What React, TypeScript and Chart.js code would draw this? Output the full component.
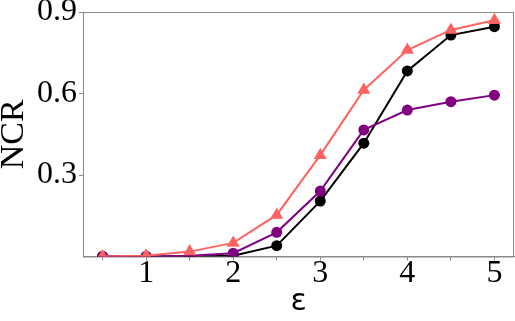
import React, { useEffect, useRef } from "react";
import { Chart, registerables } from "chart.js";

Chart.register(...registerables);

const epsValues = [0.5, 1, 1.5, 2, 2.5, 3, 3.5, 4, 4.5, 5];
const redSeries = [0, 0.003, 0.018, 0.05, 0.153, 0.373, 0.613, 0.76, 0.834, 0.87];
const purpleSeries = [0, 0, 0.003, 0.012, 0.089, 0.241, 0.466, 0.539, 0.57, 0.594];
const blackSeries = [0, 0, 0, 0.003, 0.04, 0.204, 0.417, 0.683, 0.815, 0.846];
const xTickValues = [0.5, 1, 1.5, 2, 2.5, 3, 3.5, 4, 4.5, 5];
const yTickValues = [0.3, 0.6, 0.9];
const xLabel = "ε";
const yLabel = "NCR";

const AXIS_GRAY = "#8a8a8a";
const SERIF = "'Liberation Serif', 'Times New Roman', serif";

const boxPlugin = {
  id: "boxPlugin",
  beforeDatasetsDraw(chart: any) {
    const { ctx, chartArea } = chart;
    ctx.save();
    ctx.strokeStyle = AXIS_GRAY;
    ctx.lineWidth = 1;
    ctx.strokeRect(chartArea.left + 0.5, chartArea.top + 0.5, chartArea.right - chartArea.left - 1, chartArea.bottom - chartArea.top);
    ctx.restore();
  },
};

export default function App() {
  const ref = useRef<HTMLCanvasElement | null>(null);

  useEffect(() => {
    document.body.style.margin = "0";
    const canvas = ref.current;
    if (!canvas) return;
    const mk = (vals: number[]) => epsValues.map((x, i) => ({ x, y: vals[i] }));
    const chart = new Chart(canvas, {
      type: "line",
      data: {
        datasets: [
          {
            data: mk(redSeries),
            borderColor: "#ff6361",
            backgroundColor: "#ff6361",
            pointStyle: "triangle",
            pointRadius: 7.5,
            pointBorderWidth: 0,
            borderWidth: 2,
            clip: 0,
          },
          {
            data: mk(purpleSeries),
            borderColor: "#800080",
            backgroundColor: "#800080",
            pointStyle: "circle",
            pointRadius: 5.5,
            pointBorderWidth: 0,
            borderWidth: 2,
            clip: 0,
          },
          {
            data: mk(blackSeries),
            borderColor: "#000000",
            backgroundColor: "#000000",
            pointStyle: "circle",
            pointRadius: 5.5,
            pointBorderWidth: 0,
            borderWidth: 2,
            clip: 0,
          },
        ],
      },
      options: {
        animation: false,
        responsive: false,
        maintainAspectRatio: false,
        layout: { autoPadding: false, padding: { top: 12, right: 1, left: 0, bottom: 0 } },
        plugins: { legend: { display: false }, tooltip: { enabled: false } },
        scales: {
          x: {
            type: "linear",
            min: 0.275,
            max: 5.225,
            afterBuildTicks(scale: any) {
              scale.ticks = xTickValues.map((v) => ({ value: v }));
            },
            afterFit(scale: any) {
              scale.height = 64.5;
              scale.paddingLeft = 0;
              scale.paddingRight = 0;
            },
            grid: { drawOnChartArea: false, drawTicks: true, tickLength: 4, color: AXIS_GRAY },
            border: { display: true, color: AXIS_GRAY },
            ticks: {
              autoSkip: false,
              maxRotation: 0,
              color: "#000",
              padding: -6,
              font: { family: SERIF, size: 32 },
              callback: (v: any) => (Number.isInteger(Number(v)) ? String(v) : ""),
            },
            title: {
              display: true,
              text: xLabel,
              color: "#000",
              font: { family: "'DejaVu Sans', sans-serif", size: 30 },
              padding: { top: 0, bottom: 1 },
            },
          },
          y: {
            type: "linear",
            min: 0,
            max: 0.9,
            afterBuildTicks(scale: any) {
              scale.ticks = yTickValues.map((v) => ({ value: v }));
            },
            afterFit(scale: any) {
              scale.width = 83;
              scale.paddingTop = 0;
              scale.paddingBottom = 0;
            },
            grid: { drawOnChartArea: false, drawTicks: true, tickLength: 4, color: AXIS_GRAY },
            border: { display: true, color: AXIS_GRAY },
            ticks: {
              autoSkip: false,
              color: "#000",
              padding: 2,
              font: { family: SERIF, size: 32 },
              callback: (v: any) => Number(v).toFixed(1),
            },
            title: {
              display: true,
              text: yLabel,
              color: "#000",
              font: { family: SERIF, size: 34, lineHeight: 0.8 },
              padding: { top: 0, bottom: 0 },
            },
          },
        },
      },
      plugins: [boxPlugin],
    } as any);
    return () => chart.destroy();
  }, []);

  return (
    <div style={{ position: "fixed", left: 0, top: 0, width: 515, height: 321 }}>
      <canvas ref={ref} width={515} height={321} style={{ width: 515, height: 321, display: "block" }} />
    </div>
  );
}
